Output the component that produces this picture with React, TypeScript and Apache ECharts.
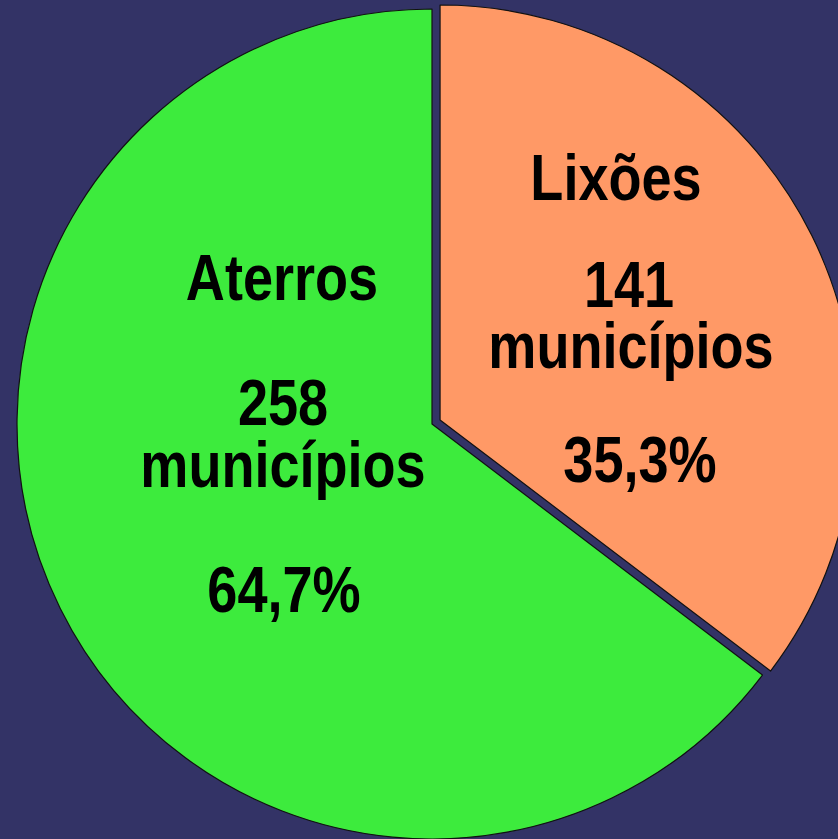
import React, { useEffect, useRef } from "react";
import * as echarts from "echarts";

const categories = ["Lixões", "Aterros"];
const municipios = [141, 258];
const unitLabel = "municípios";
const percentLabels = ["35,3%", "64,7%"];
const sliceColors = ["#FF9966", "#3DEB3D"];

// label line layout (centre x and baseline y of each line, per slice)
const lineCenterX = [
  [616, 629, 631, 640],
  [282, 283, 283, 284],
];
const lineBaseline = [
  [200, 307, 368, 482],
  [300, 425, 487, 612],
];

export default function App() {
  const ref = useRef<HTMLDivElement>(null);
  useEffect(() => {
    document.body.style.margin = "0";
    const chart = echarts.init(ref.current!, null, { renderer: "svg" });
    const fontSize = 64;
    const texts: any[] = [];
    categories.forEach((name, i) => {
      const lines = [name, String(municipios[i]), unitLabel, percentLabels[i]];
      lines.forEach((t, j) => {
        texts.push({
          type: "text",
          x: lineCenterX[i][j],
          y: lineBaseline[i][j] - fontSize * 0.345,
          scaleX: 0.845,
          z: 10,
          style: {
            text: t,
            fill: "#000",
            fontSize,
            fontWeight: "bold",
            fontFamily: "'Liberation Sans', Arial, sans-serif",
            align: "center",
            verticalAlign: "middle",
          },
        });
      });
    });
    chart.setOption({
      animation: false,
      backgroundColor: "#333366",
      graphic: texts,
      series: [
        {
          type: "pie",
          center: [432, 424],
          radius: 415,
          startAngle: 90,
          clockwise: true,
          selectedMode: "single",
          selectedOffset: 9,
          silent: true,
          label: { show: false },
          labelLine: { show: false },
          itemStyle: { borderColor: "#111", borderWidth: 1.2 },
          data: categories.map((name, i) => ({
            name,
            value: municipios[i],
            selected: i === 0,
            itemStyle: { color: sliceColors[i] },
          })),
        },
      ],
    });
    return () => chart.dispose();
  }, []);
  return <div ref={ref} style={{ width: 838, height: 839 }} />;
}
